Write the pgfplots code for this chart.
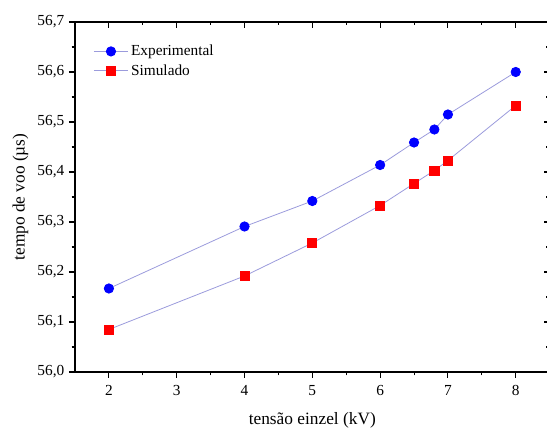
\documentclass[border=0pt]{standalone}
\usepackage{pgfplots}
\pgfplotsset{compat=1.18}
\usepackage{fontspec}
\setmainfont{Liberation Serif}

\definecolor{linecol}{RGB}{155,155,220}
\definecolor{expblue}{RGB}{0,0,255}
\definecolor{simred}{RGB}{255,0,0}

\pgfplotsset{
  base/.style={
    at={(0,0)}, anchor=south west,
    scale only axis, width=356pt, height=262.5pt,
    xmin=1.5, xmax=8.5, ymin=56.0, ymax=56.7,
    xtick={2,3,4,5,6,7,8},
    ytick={56.0,56.1,56.2,56.3,56.4,56.5,56.6,56.7},
    minor x tick num=1, minor y tick num=1,
    major tick length=4.5pt, minor tick length=2.5pt,
    axis line style={line width=0.9pt},
    every tick/.style={black, line width=0.8pt},
  }
}

\begin{document}
\begin{tikzpicture}
  \begin{axis}[
      base,
      tick align=outside,
      xtick pos=left, ytick pos=left,
      /pgf/number format/assume math mode=true,
      /pgf/number format/use comma,
      yticklabel style={/pgf/number format/fixed, /pgf/number format/fixed zerofill, /pgf/number format/precision=1},
      xticklabel style={yshift=-2pt},
      tick label style={font=\fontsize{11.5}{13}\selectfont},
      label style={font=\fontsize{13}{15}\selectfont},
      xlabel style={yshift=-6pt},
      xlabel={tensão einzel (kV)},
      ylabel={tempo de voo (µs)},
      legend style={at={(0.03,0.95)}, anchor=north west, draw=none, fill=none,
        font=\fontsize{11.5}{13}\selectfont, row sep=1pt},
      legend cell align=left,
      legend image code/.code={
        \draw[mark repeat=2,mark phase=2] plot coordinates {(0cm,0cm) (0.45cm,0cm) (0.9cm,0cm)};
      },
    ]
    \addplot[color=linecol, line width=0.6pt, mark=*, mark size=3.5pt,
      mark options={draw=expblue, fill=expblue}] coordinates {
      (2,56.167) (4,56.291) (5,56.342) (6,56.414) (6.5,56.459)
      (6.8,56.485) (7,56.515) (8,56.600)
    };
    \addlegendentry{Experimental}
    \addplot[color=linecol, line width=0.6pt, mark=square*, mark size=3.4pt,
      mark options={draw=simred, fill=simred}] coordinates {
      (2,56.085) (4,56.192) (5,56.258) (6,56.333) (6.5,56.377)
      (6.8,56.403) (7,56.423) (8,56.533)
    };
    \addlegendentry{Simulado}
  \end{axis}
  \begin{axis}[
      base,
      tick align=inside,
      xtick pos=right, ytick pos=right,
      xticklabels={}, yticklabels={},
    ]
  \end{axis}
  \pgfresetboundingbox
  \useasboundingbox (-56.25pt,-42pt) rectangle (354pt,279pt);
\end{tikzpicture}
\end{document}
